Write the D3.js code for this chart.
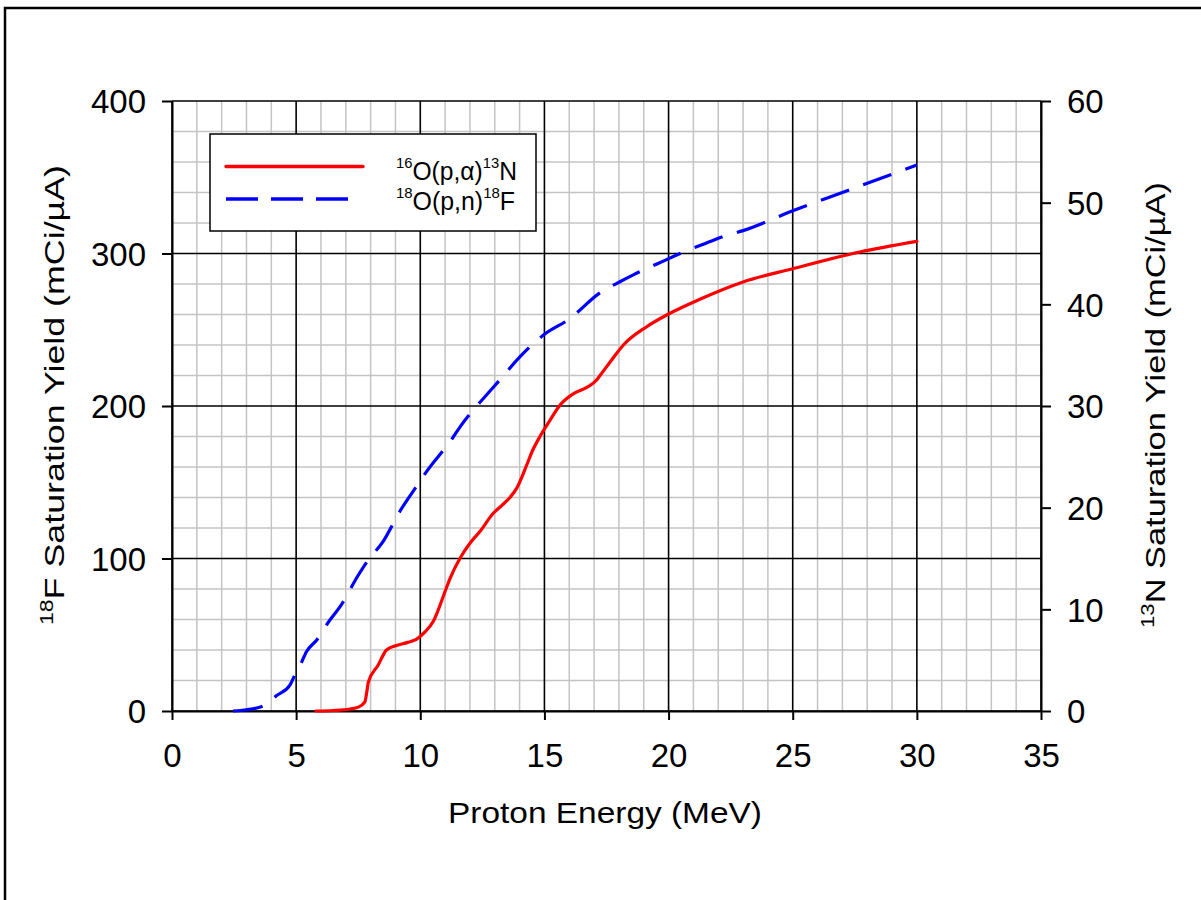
<!DOCTYPE html>
<html>
<head>
<meta charset="utf-8">
<script src="https://cdn.jsdelivr.net/npm/d3@7"></script>
<style>
  body { margin: 0; background: #fff; }
  svg { display: block; }
  text { font-family: "Liberation Sans", Arial, Helvetica, sans-serif; fill: #000; }
</style>
</head>
<body>
<svg id="chart" width="1201" height="900"></svg>
<script>
// 18O(p,n)18F saturation yield, mCi/uA (left axis)
const energyF = [2.46, 3.0, 3.75, 4.2, 4.75, 4.95, 5.15, 5.42, 5.83, 6.36, 6.77, 7.5, 7.9, 8.5, 9.18, 9.92, 10.28, 11.26, 11.63, 12.71, 13.2, 14, 15, 16, 17.22, 18.04, 18.58, 19.92, 20.42, 21.67, 22.27, 23, 25, 27, 30];
const yieldF  = [0, 0.8, 3.9, 10, 17, 23.6, 29.5, 39, 46.6, 59.7, 68.4, 89, 99, 111, 131, 149, 157.6, 178, 187, 208, 217, 232, 247, 257, 274, 281.5, 286, 296, 299.7, 307.8, 311.5, 315, 328, 340, 358];

// 16O(p,alpha)13N saturation yield, mCi/uA (right axis)
const energyN = [5.8, 6.5, 7.17, 7.5, 7.77, 7.85, 7.91, 8.3, 8.64, 9.04, 9.5, 9.84, 10.2, 10.52, 10.99, 11.2, 11.63, 12.0, 12.4, 12.94, 13.3, 13.61, 13.88, 14.28, 14.5, 14.82, 15.2, 15.63, 16.16, 16.76, 17.1, 17.24, 17.7, 18.18, 19.12, 20, 21.26, 23, 25, 27.7, 30];
const yieldN  = [0, 0.05, 0.2, 0.38, 0.9, 1.95, 2.85, 4.5, 6.0, 6.45, 6.75, 7.05, 7.8, 8.8, 11.7, 13.05, 15.15, 16.5, 17.65, 19.45, 20.25, 21.0, 21.9, 24.15, 25.5, 27.0, 28.5, 30.1, 31.2, 31.9, 32.55, 33.0, 34.5, 36.0, 37.8, 39.05, 40.5, 42.2, 43.5, 45.15, 46.2];

const xTicks = [0, 5, 10, 15, 20, 25, 30, 35];
const leftTicks = [0, 100, 200, 300, 400];
const rightTicks = [0, 10, 20, 30, 40, 50, 60];

const svg = d3.select("#chart");
const plot = { left: 172, right: 1041, top: 101, bottom: 711 };

const x = d3.scaleLinear().domain([0, 35]).range([plot.left, plot.right]);
const yL = d3.scaleLinear().domain([0, 400]).range([plot.bottom, plot.top]);
const yR = d3.scaleLinear().domain([0, 60]).range([plot.bottom, plot.top]);

// outer frame
svg.append("rect")
  .attr("x", 5).attr("y", 8).attr("width", 1210).attr("height", 910)
  .attr("fill", "none").attr("stroke", "#000").attr("stroke-width", 2.5);

// minor grid
const grid = svg.append("g");
grid.selectAll("line.vminor")
  .data(d3.range(0, 36, 1).filter(v => v % 5 !== 0))
  .join("line")
  .attr("x1", d => x(d)).attr("x2", d => x(d))
  .attr("y1", plot.top).attr("y2", plot.bottom)
  .attr("stroke", "#c4c4c4").attr("stroke-width", 1.5);
grid.selectAll("line.hminor")
  .data(d3.range(0, 401, 20).filter(v => v % 100 !== 0))
  .join("line")
  .attr("x1", plot.left).attr("x2", plot.right)
  .attr("y1", d => yL(d)).attr("y2", d => yL(d))
  .attr("stroke", "#c4c4c4").attr("stroke-width", 1.5);

// major grid
grid.selectAll("line.vmajor")
  .data(xTicks)
  .join("line")
  .attr("x1", d => x(d)).attr("x2", d => x(d))
  .attr("y1", plot.top).attr("y2", plot.bottom)
  .attr("stroke", "#000").attr("stroke-width", 1.6);
grid.selectAll("line.hmajor")
  .data(leftTicks)
  .join("line")
  .attr("x1", plot.left).attr("x2", plot.right)
  .attr("y1", d => yL(d)).attr("y2", d => yL(d))
  .attr("stroke", "#000").attr("stroke-width", 1.6);

// axes
function styleAxis(g) {
  g.selectAll("path.domain").attr("stroke", "#000").attr("stroke-width", 2);
  g.selectAll(".tick line").attr("stroke", "#000").attr("stroke-width", 2);
  g.selectAll(".tick text").style("font-size", "33px").attr("fill", "#000");
}

const gx = svg.append("g")
  .attr("transform", `translate(0,${plot.bottom})`)
  .call(d3.axisBottom(x).tickValues(xTicks).tickSize(9).tickSizeOuter(0))
  .call(styleAxis);
gx.selectAll(".tick text").attr("y", 56).attr("dy", 0);

const gl = svg.append("g")
  .attr("transform", `translate(${plot.left},0)`)
  .call(d3.axisLeft(yL).tickValues(leftTicks).tickSize(10).tickSizeOuter(0))
  .call(styleAxis);
gl.selectAll(".tick text").attr("x", -26).attr("dy", "0.36em");

const gr = svg.append("g")
  .attr("transform", `translate(${plot.right},0)`)
  .call(d3.axisRight(yR).tickValues(rightTicks).tickSize(10).tickSizeOuter(0))
  .call(styleAxis);
gr.selectAll(".tick text").attr("x", 26).attr("dy", "0.36em");

// curves
const lineF = d3.line().x(d => x(d[0])).y(d => yL(d[1])).curve(d3.curveMonotoneX);
const lineN = d3.line().x(d => x(d[0])).y(d => yR(d[1])).curve(d3.curveMonotoneX);

svg.append("path")
  .datum(d3.zip(energyN, yieldN))
  .attr("d", lineN)
  .attr("fill", "none").attr("stroke", "#ff0000").attr("stroke-width", 3.2)
  .attr("stroke-linejoin", "round").attr("stroke-linecap", "round");

svg.append("path")
  .datum(d3.zip(energyF, yieldF))
  .attr("d", lineF)
  .attr("fill", "none").attr("stroke", "#0000ff").attr("stroke-width", 3.2)
  .attr("stroke-dasharray", "30,15")
  .attr("stroke-linejoin", "round");

// axis titles
svg.append("text")
  .attr("x", 605).attr("y", 823)
  .attr("text-anchor", "middle")
  .attr("textLength", 314).attr("lengthAdjust", "spacingAndGlyphs")
  .style("font-size", "29px")
  .text("Proton Energy (MeV)");

function yTitle(xPos, yMid, iso, el, len) {
  const t = svg.append("text")
    .attr("transform", `translate(${xPos},${yMid}) rotate(-90)`)
    .attr("text-anchor", "middle")
    .attr("textLength", len).attr("lengthAdjust", "spacingAndGlyphs")
    .style("font-size", "28px");
  t.append("tspan").style("font-size", "18px").attr("dy", -11).text(iso);
  t.append("tspan").attr("dy", 11).text(el + " Saturation Yield (mCi/\u00B5A)");
}
yTitle(64, 395, "18", "F", 460);
yTitle(1165, 405, "13", "N", 446);

// legend
const lg = svg.append("g");
lg.append("rect")
  .attr("x", 210).attr("y", 134).attr("width", 326).attr("height", 97)
  .attr("fill", "#fff").attr("stroke", "#000").attr("stroke-width", 1.5);
lg.append("line")
  .attr("x1", 226).attr("x2", 363).attr("y1", 166.5).attr("y2", 166.5)
  .attr("stroke", "#ff0000").attr("stroke-width", 3.3).attr("stroke-linecap", "round");
lg.append("line")
  .attr("x1", 226).attr("x2", 350).attr("y1", 199).attr("y2", 199)
  .attr("stroke", "#0000ff").attr("stroke-width", 3.3)
  .attr("stroke-dasharray", "32,13");

function legendLabel(yBase, pre, mid, post, last, len) {
  const t = lg.append("text").attr("x", 396).attr("y", yBase)
    .attr("textLength", len).attr("lengthAdjust", "spacingAndGlyphs")
    .style("font-size", "25px");
  t.append("tspan").style("font-size", "15px").attr("dy", -12).text(pre);
  t.append("tspan").attr("dy", 12).text(mid);
  t.append("tspan").style("font-size", "15px").attr("dy", -12).text(post);
  t.append("tspan").attr("dy", 12).text(last);
}
legendLabel(180, "16", "O(p,\u03B1)", "13", "N", 121);
legendLabel(210, "18", "O(p,n)", "18", "F", 119);
</script>
</body>
</html>
